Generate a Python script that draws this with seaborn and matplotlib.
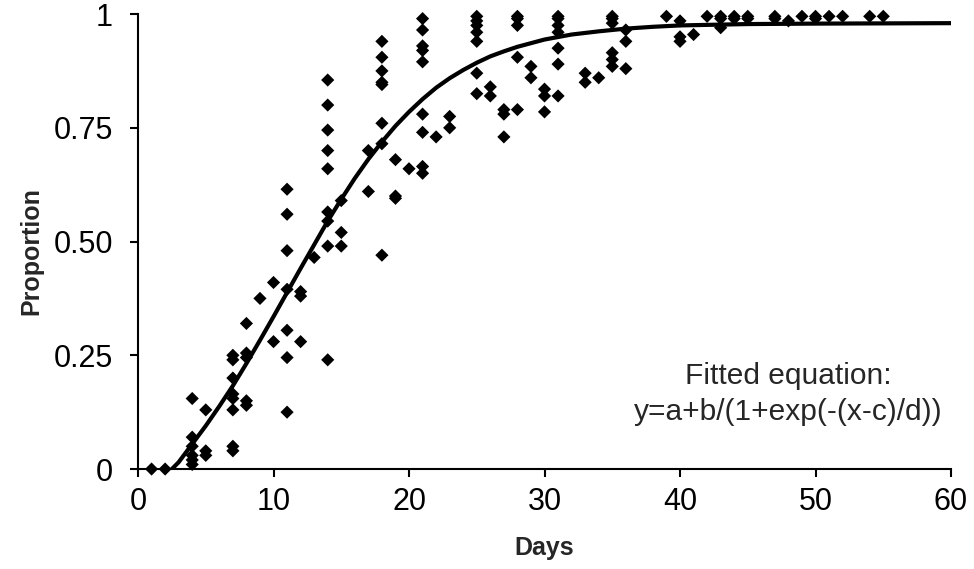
import numpy as np
import pandas as pd
import seaborn as sns
import matplotlib.pyplot as plt

# observed proportions, one entry per point (day, proportion)
days = [1, 2,
        4, 4, 4, 4, 4, 4,
        5, 5, 5,
        7, 7, 7, 7, 7, 7, 7, 7,
        8, 8, 8, 8, 8,
        9,
        10, 10,
        11, 11, 11, 11, 11, 11, 11,
        12, 12, 12,
        13,
        14, 14, 14, 14, 14, 14, 14, 14, 14,
        15, 15, 15,
        17, 17,
        18, 18, 18, 18, 18, 18, 18, 18,
        19, 19, 19,
        20,
        21, 21, 21, 21, 21, 21, 21, 21, 21,
        22,
        23, 23,
        25, 25, 25, 25, 25, 25, 25,
        26, 26,
        27, 27, 27,
        28, 28, 28, 28, 28,
        29, 29,
        30, 30, 30,
        31, 31, 31, 31, 31, 31, 31,
        33, 33,
        34,
        35, 35, 35, 35, 35, 35,
        36, 36, 36,
        39,
        40, 40, 40,
        41,
        42,
        43, 43, 43,
        44, 44,
        45, 45,
        47, 47,
        48,
        49,
        50, 50,
        51, 52, 54, 55]
proportion = [0.0, 0.0,
              0.155, 0.07, 0.05, 0.03, 0.02, 0.01,
              0.13, 0.04, 0.03,
              0.25, 0.24, 0.20, 0.165, 0.155, 0.13, 0.05, 0.04,
              0.32, 0.255, 0.245, 0.15, 0.14,
              0.375,
              0.41, 0.28,
              0.615, 0.56, 0.48, 0.395, 0.305, 0.245, 0.125,
              0.39, 0.38, 0.28,
              0.465,
              0.855, 0.80, 0.745, 0.70, 0.66, 0.565, 0.545, 0.49, 0.24,
              0.59, 0.52, 0.49,
              0.70, 0.61,
              0.94, 0.905, 0.875, 0.85, 0.845, 0.76, 0.715, 0.47,
              0.68, 0.60, 0.595,
              0.66,
              0.99, 0.965, 0.93, 0.92, 0.895, 0.78, 0.74, 0.665, 0.65,
              0.73,
              0.775, 0.75,
              0.995, 0.985, 0.975, 0.96, 0.94, 0.87, 0.825,
              0.84, 0.82,
              0.79, 0.78, 0.73,
              0.995, 0.99, 0.975, 0.905, 0.79,
              0.885, 0.86,
              0.835, 0.82, 0.785,
              0.995, 0.99, 0.975, 0.96, 0.925, 0.89, 0.82,
              0.87, 0.85,
              0.86,
              0.995, 0.99, 0.98, 0.915, 0.90, 0.885,
              0.965, 0.94, 0.88,
              0.995,
              0.985, 0.95, 0.94,
              0.955,
              0.995,
              0.995, 0.99, 0.97,
              0.995, 0.99,
              0.995, 0.99,
              0.995, 0.99,
              0.985,
              0.995,
              0.995, 0.99,
              0.995, 0.995, 0.995, 0.995]

# fitted curve
fit_days = [2.5, 3, 4, 5, 6, 7, 8, 9, 10, 11, 12, 13, 14, 15, 16, 17, 18, 19, 20,
            21, 22, 23, 24, 25, 26, 27, 28, 29, 30, 32, 34, 36, 38, 40, 45, 50, 60]
fit_prop = [0.0, 0.015, 0.055, 0.095, 0.138, 0.183, 0.232, 0.283, 0.335, 0.388,
            0.441, 0.493, 0.545, 0.593, 0.639, 0.681, 0.719, 0.754, 0.785,
            0.813, 0.838, 0.859, 0.877, 0.893, 0.907, 0.918, 0.928, 0.936, 0.944,
            0.955, 0.962, 0.968, 0.972, 0.975, 0.978, 0.979, 0.980]

x_ticks = [0, 10, 20, 30, 40, 50, 60]
y_ticks = [0, 0.25, 0.5, 0.75, 1]
y_tick_labels = ['0', '0.25', '0.50', '0.75', '1']

obs = pd.DataFrame({'Days': days, 'Proportion': proportion})
fit = pd.DataFrame({'Days': fit_days, 'Proportion': fit_prop})

sns.set_theme(style='ticks')
plt.rcParams['font.family'] = ['Liberation Sans', 'DejaVu Sans']

fig = plt.figure(figsize=(9.74, 5.69), dpi=100)
ax = fig.add_axes([0.1417, 0.1757, 0.8347, 0.7996])

sns.lineplot(data=fit, x='Days', y='Proportion', color='black', lw=3, ax=ax)
sns.scatterplot(data=obs, x='Days', y='Proportion', marker='D', s=45,
                color='black', edgecolor='none', clip_on=False, zorder=3, ax=ax)

ax.set_xlim(0, 60)
ax.set_ylim(0, 1)
ax.set_xticks(x_ticks)
ax.set_yticks(y_ticks)
ax.set_yticklabels(y_tick_labels)
ax.tick_params(direction='out', length=6, width=1.5, labelsize=22, colors='black')
ax.tick_params(axis='x', pad=7)
ax.tick_params(axis='y', pad=12)
for side in ['top', 'right']:
    ax.spines[side].set_visible(False)
for side in ['left', 'bottom']:
    ax.spines[side].set_linewidth(1.5)
    ax.spines[side].set_color('black')

ax.set_xlabel('Days', fontsize=18, fontweight='bold')
ax.set_ylabel('Proportion', fontsize=18, fontweight='bold')
ax.xaxis.set_label_coords(0.5, -0.148)
ax.yaxis.set_label_coords(-0.116, 0.48)

ax.text(48.0, 0.205, 'Fitted equation:', ha='center', va='center', fontsize=21.5)
ax.text(48.0, 0.125, 'y=a+b/(1+exp(-(x-c)/d))', ha='center', va='center', fontsize=21.5)

fig.savefig('out.png', dpi=100)
